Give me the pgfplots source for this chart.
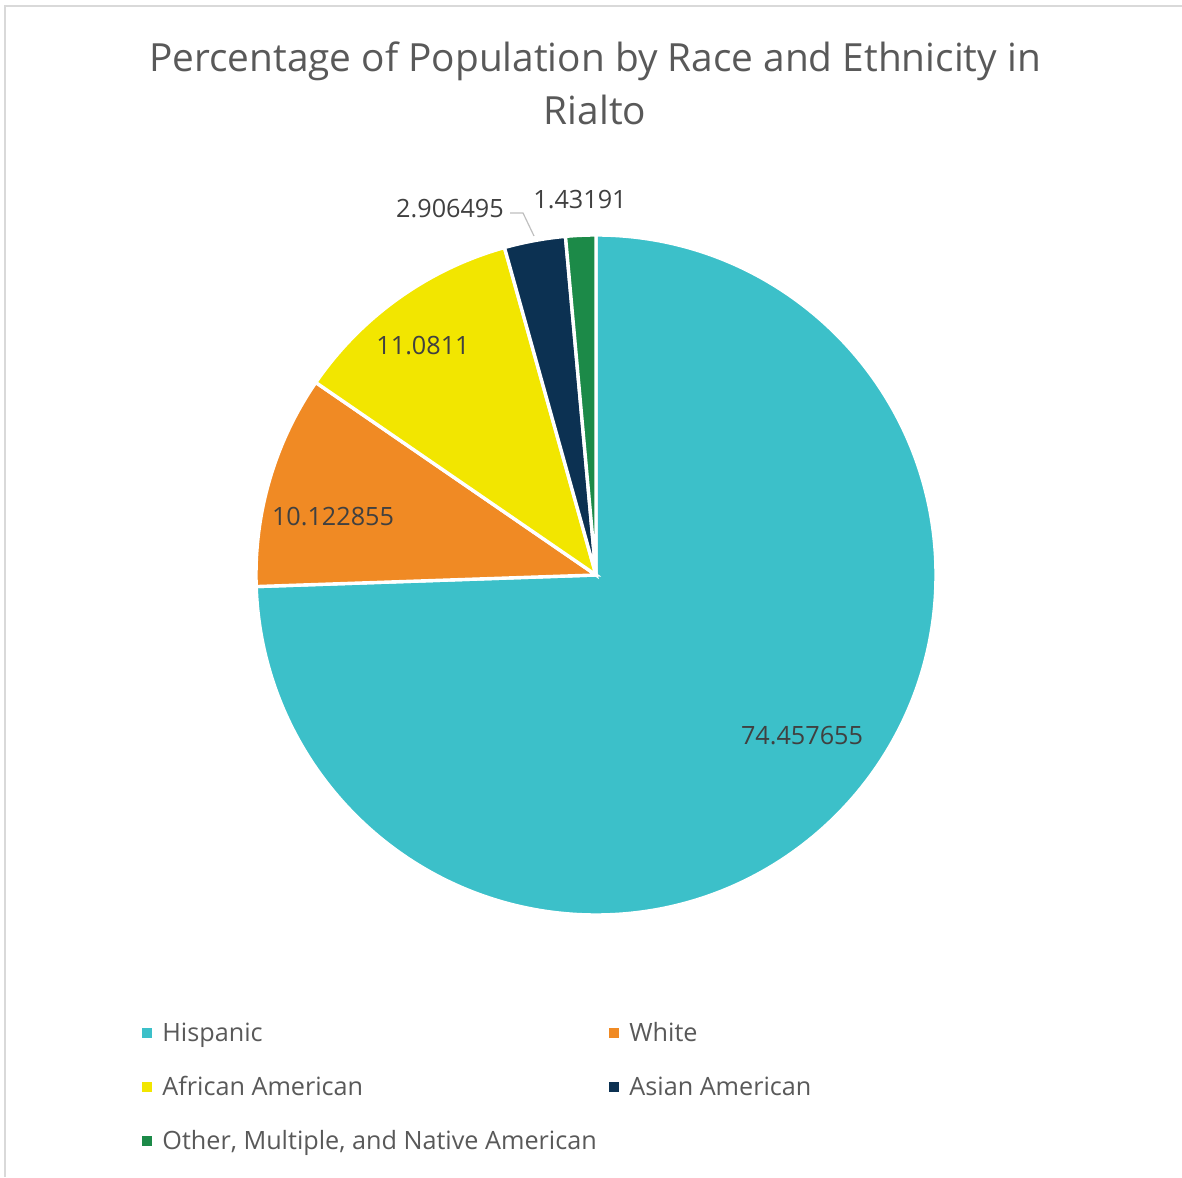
\documentclass[border=0pt]{standalone}
\usepackage{pgfplots}
\pgfplotsset{compat=1.18}
\usepackage{pgfplotstable}
\usepackage{fontspec}
\setmainfont{Open Sans}
\definecolor{cHis}{HTML}{3CC0C9}
\definecolor{cWhi}{HTML}{F08A24}
\definecolor{cAfr}{HTML}{F2E600}
\definecolor{cAsi}{HTML}{0C3152}
\definecolor{cOth}{HTML}{1C8A48}
\definecolor{txt}{HTML}{595959}
\definecolor{lbl}{HTML}{404040}
\definecolor{frame}{HTML}{D9D9D9}
\pgfplotstableread{
name value
Hispanic 74.457655
White 10.122855
African 11.0811
Asian 2.906495
Other 1.43191
}\piedata
\begin{document}
\begin{tikzpicture}
\pgfplotstablegetelem{0}{value}\of\piedata \let\vA\pgfplotsretval
\pgfplotstablegetelem{1}{value}\of\piedata \let\vB\pgfplotsretval
\pgfplotstablegetelem{2}{value}\of\piedata \let\vC\pgfplotsretval
\pgfplotstablegetelem{3}{value}\of\piedata \let\vD\pgfplotsretval
\pgfplotstablegetelem{4}{value}\of\piedata \let\vE\pgfplotsretval
\pgfmathsetmacro\aA{90}
\pgfmathsetmacro\aB{\aA-3.6*\vA}
\pgfmathsetmacro\aC{\aB-3.6*\vB}
\pgfmathsetmacro\aD{\aC-3.6*\vC}
\pgfmathsetmacro\aE{\aD-3.6*\vD}
\pgfmathsetmacro\aF{\aE-3.6*\vE}
\begin{axis}[
  hide axis, scale only axis,
  width=591pt, height=588.5pt,
  xmin=0, xmax=1182, ymin=0, ymax=1177,
  clip=false,
]
\coordinate (BL) at (axis cs:0,0);
\coordinate (TR) at (axis cs:1182,1177);
% frame (top and left edges visible)
\draw[frame, line width=1pt] (axis cs:5,0) -- (axis cs:5,1171) -- (axis cs:1182,1171);
% title
\node[anchor=base, text=txt, font=\fontsize{19.4}{23}\selectfont] at (axis cs:595,1105) {Percentage of Population by Race and Ethnicity in};
\node[anchor=base, text=txt, font=\fontsize{19.4}{23}\selectfont] at (axis cs:595,1052) {Rialto};
% wedges
\fill[cHis, draw=white, line width=1.7pt] (axis cs:596,602) -- ++(\aA:170pt) arc[start angle=\aA, end angle=\aB, radius=170pt] -- cycle;
\fill[cWhi, draw=white, line width=1.7pt] (axis cs:596,602) -- ++(\aB:170pt) arc[start angle=\aB, end angle=\aC, radius=170pt] -- cycle;
\fill[cAfr, draw=white, line width=1.7pt] (axis cs:596,602) -- ++(\aC:170pt) arc[start angle=\aC, end angle=\aD, radius=170pt] -- cycle;
\fill[cAsi, draw=white, line width=1.7pt] (axis cs:596,602) -- ++(\aD:170pt) arc[start angle=\aD, end angle=\aE, radius=170pt] -- cycle;
\fill[cOth, draw=white, line width=1.7pt] (axis cs:596,602) -- ++(\aE:170pt) arc[start angle=\aE, end angle=\aF, radius=170pt] -- cycle;
% data labels
\node[text=lbl, font=\fontsize{12.6}{15}\selectfont] at (axis cs:802,441) {\vA};
\node[text=lbl, font=\fontsize{12.6}{15}\selectfont] at (axis cs:333,660) {\vB};
\node[text=lbl, font=\fontsize{12.6}{15}\selectfont] at (axis cs:423,831) {\vC};
\node[text=lbl, font=\fontsize{12.6}{15}\selectfont] at (axis cs:450,968) {\vD};
\node[text=lbl, font=\fontsize{12.6}{15}\selectfont] at (axis cs:580,977) {\vE};
\draw[gray!50, line width=0.6pt] (axis cs:510,964) -- (axis cs:523,964) -- (axis cs:534,941);
% legend
\fill[cHis] (axis cs:142,139) rectangle (axis cs:152,149);
\node[anchor=base west, text=txt, font=\fontsize{12.6}{15}\selectfont, inner sep=0pt] at (axis cs:162,135) {Hispanic};
\fill[cWhi] (axis cs:609,139) rectangle (axis cs:619,149);
\node[anchor=base west, text=txt, font=\fontsize{12.6}{15}\selectfont, inner sep=0pt] at (axis cs:629,135) {White};
\fill[cAfr] (axis cs:142,85) rectangle (axis cs:152,95);
\node[anchor=base west, text=txt, font=\fontsize{12.6}{15}\selectfont, inner sep=0pt] at (axis cs:162,81) {African American};
\fill[cAsi] (axis cs:609,85) rectangle (axis cs:619,95);
\node[anchor=base west, text=txt, font=\fontsize{12.6}{15}\selectfont, inner sep=0pt] at (axis cs:629,81) {Asian American};
\fill[cOth] (axis cs:142,31) rectangle (axis cs:152,41);
\node[anchor=base west, text=txt, font=\fontsize{12.6}{15}\selectfont, inner sep=0pt] at (axis cs:162,27) {Other, Multiple, and Native American};
\end{axis}
\pgfresetboundingbox
\path[use as bounding box] (BL) rectangle (TR);
\end{tikzpicture}
\end{document}
